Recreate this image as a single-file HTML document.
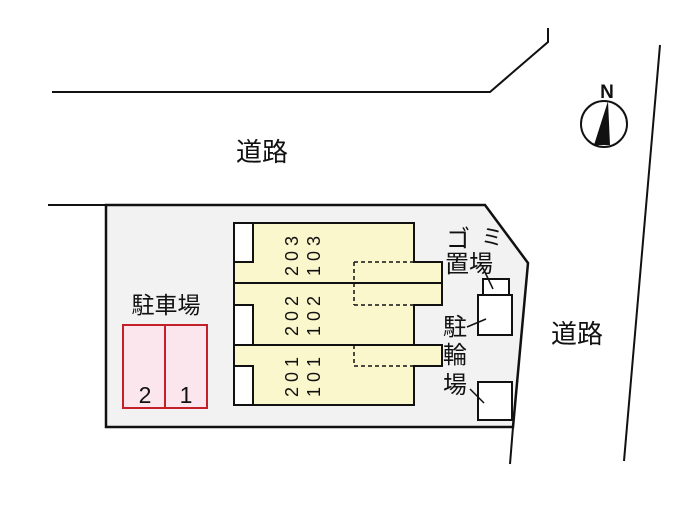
<!DOCTYPE html>
<html><head><meta charset="utf-8"><style>
html,body{margin:0;padding:0;background:#fff;}
svg{display:block;}
text{font-family:"Liberation Sans","Noto Sans CJK JP",sans-serif;fill:#111;}
</style></head><body>
<svg width="700" height="506" viewBox="0 0 700 506" xmlns="http://www.w3.org/2000/svg">
<polyline points="52,92 490,92 548,42 548,28" fill="none" stroke="#111" stroke-width="2"/>
<line x1="660" y1="45" x2="624" y2="461" stroke="#111" stroke-width="2"/>
<line x1="48" y1="205" x2="106" y2="205" stroke="#111" stroke-width="2"/>
<polygon points="106,205 485,205 528,263 513,427 106,427" fill="#f2f2f2" stroke="#111" stroke-width="2.5"/>
<line x1="513" y1="427" x2="510" y2="464" stroke="#111" stroke-width="2"/>
<text x="262" y="161" font-size="26" text-anchor="middle">道路</text>
<text x="577" y="343" font-size="26" text-anchor="middle">道路</text>
<circle cx="604" cy="124" r="23" fill="#fff" stroke="#111" stroke-width="2"/>
<polygon points="608,101 610,145 594,145" fill="#111"/>
<text x="607" y="98" font-size="19" font-weight="bold" text-anchor="middle">N</text>
<text x="166" y="313" font-size="23" text-anchor="middle">駐車場</text>
<rect x="123" y="325" width="42" height="83" fill="#fbe6ee" stroke="#c4202a" stroke-width="2"/>
<rect x="165" y="325" width="42" height="83" fill="#fbe6ee" stroke="#c4202a" stroke-width="2"/>
<text x="145" y="403" font-size="23" text-anchor="middle">2</text>
<text x="186" y="403" font-size="23" text-anchor="middle">1</text>
<path d="M234,223 H414 V262 H442 V305 H414 V345 H442 V366 H414 V405 H234 Z" fill="#fbf7cc" stroke="#111" stroke-width="2"/>
<rect x="234" y="223" width="19" height="39" fill="#fff" stroke="#111" stroke-width="2"/>
<rect x="234" y="305" width="19" height="40" fill="#fff" stroke="#111" stroke-width="2"/>
<rect x="234" y="366" width="19" height="39" fill="#fff" stroke="#111" stroke-width="2"/>
<line x1="234" y1="283" x2="442" y2="283" stroke="#111" stroke-width="2"/>
<line x1="234" y1="345" x2="414" y2="345" stroke="#111" stroke-width="2"/>
<path d="M354,262 V305 M354,262 H414 M354,305 H414 M354,345 V366 H414" fill="none" stroke="#111" stroke-width="1.5" stroke-dasharray="4,3"/>
<g font-size="18" letter-spacing="5">
<text transform="translate(298,276) rotate(-90)">203</text>
<text transform="translate(320,276) rotate(-90)">103</text>
<text transform="translate(298,336) rotate(-90)">202</text>
<text transform="translate(320,336) rotate(-90)">102</text>
<text transform="translate(298,397) rotate(-90)">201</text>
<text transform="translate(320,397) rotate(-90)">101</text>
</g>
<rect x="483" y="279" width="26" height="16" fill="#fff" stroke="#111" stroke-width="2"/>
<rect x="478" y="295" width="34" height="40" fill="#fff" stroke="#111" stroke-width="2"/>
<rect x="478" y="382" width="34" height="38" fill="#fff" stroke="#111" stroke-width="2"/>
<text x="446" y="247" font-size="24">ゴ</text>
<text x="481" y="245" font-size="22">ミ</text>
<text x="445" y="272" font-size="24">置場</text>
<text x="443" y="335" font-size="24">駐</text>
<text x="443" y="363" font-size="24">輪</text>
<text x="443" y="393" font-size="24">場</text>
<line x1="483" y1="268" x2="493" y2="289" stroke="#111" stroke-width="1.5"/>
<line x1="467" y1="327" x2="486" y2="319" stroke="#111" stroke-width="1.5"/>
<line x1="470" y1="389" x2="484" y2="403" stroke="#111" stroke-width="1.5"/>
</svg>
</body></html>
